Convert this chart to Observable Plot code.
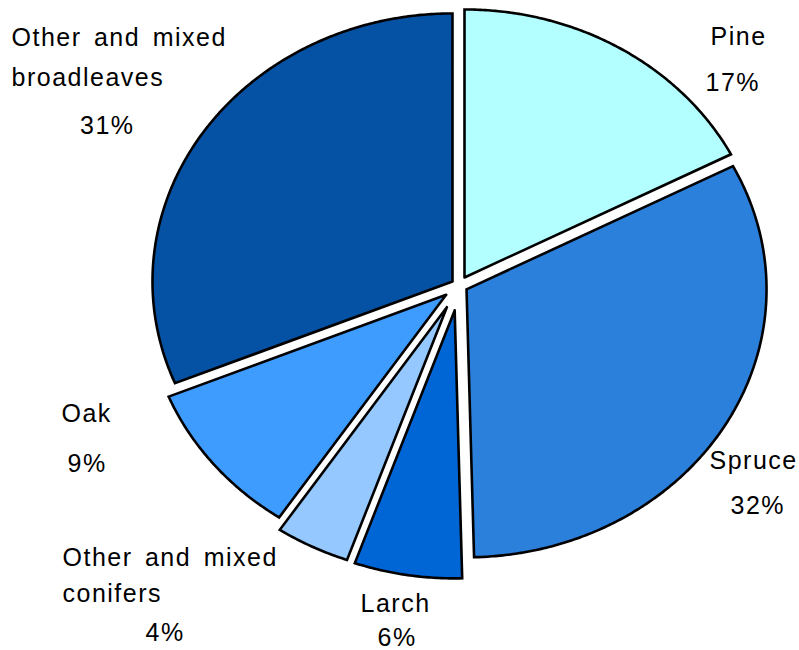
<!DOCTYPE html>
<html>
<head>
<meta charset="utf-8">
<script src="https://cdn.jsdelivr.net/npm/d3@7"></script>
<script src="https://cdn.jsdelivr.net/npm/@observablehq/plot@0.6"></script>
<style>
  html, body { margin: 0; padding: 0; background: #ffffff; }
  #chart svg { display: block; }
</style>
</head>
<body>
<div id="chart"></div>
<script>
// ---- data ----
const categories = ["Pine", "Spruce", "Larch", "Other and mixed conifers", "Oak", "Other and mixed broadleaves"];
const shares = [17.4, 32.2, 5.8, 4.0, 9.4, 31.2];
const percentLabels = ["17%", "32%", "6%", "4%", "9%", "31%"];
const labelLines = [["Pine"], ["Spruce"], ["Larch"], ["Other and mixed", "conifers"], ["Oak"], ["Other and mixed", "broadleaves"]];

// ---- style / layout ----
const colors = ["#b3ffff", "#2b80dc", "#0066d6", "#94c8ff", "#3f9cff", "#0552a5"];
const W = 799, H = 650;
const cx = 458.6, cy = 284.9, rx = 300, ry = 268;
const explode = [9.6, 8.4, 25.4, 25, 16, 7.7];
// [x, baseline] for each label line, then for the percentage line
const labelLayout = [
  [[710, 44.3], [705, 90]],
  [[709, 468.3], [730, 513.3]],
  [[360, 611.7], [377, 645.5]],
  [[62, 565], [62, 601.7], [145, 640]],
  [[61, 421.7], [67, 471.7]],
  [[11, 45], [11, 85], [79.5, 133]]
];

// ---- build slice outlines from the shares ----
const pie = d3.pie().sort(null).value(d => d)(shares);
const slicePoints = [];
pie.forEach((p, i) => {
  const a0 = p.startAngle, a1 = p.endAngle, mid = (a0 + a1) / 2;
  let dx = Math.sin(mid) * rx, dy = -Math.cos(mid) * ry;
  const len = Math.hypot(dx, dy);
  const vx = cx + explode[i] * dx / len, vy = cy + explode[i] * dy / len;
  const name = categories[i];
  slicePoints.push({name, x: vx, y: vy});
  const steps = Math.max(2, Math.ceil((a1 - a0) / (Math.PI / 360)));
  for (let k = 0; k <= steps; k++) {
    const a = a0 + (a1 - a0) * k / steps;
    slicePoints.push({name, x: vx + rx * Math.sin(a), y: vy - ry * Math.cos(a)});
  }
  slicePoints.push({name, x: vx, y: vy});
});

const textRows = [];
categories.forEach((c, i) => {
  const lines = [...labelLines[i], percentLabels[i]];
  lines.forEach((t, j) => {
    textRows.push({text: t, x: labelLayout[i][j][0], y: labelLayout[i][j][1]});
  });
});

const chart = Plot.plot({
  width: W,
  height: H,
  margin: 0,
  style: {background: "#ffffff", fontFamily: "'Liberation Sans', Arial, sans-serif", letterSpacing: "1.5px", wordSpacing: "4px"},
  x: {domain: [0, W], range: [0, W], axis: null},
  y: {domain: [0, H], range: [0, H], axis: null},
  color: {domain: categories, range: colors},
  marks: [
    Plot.line(slicePoints, {
      x: "x", y: "y", z: "name", fill: "name",
      stroke: "#000000", strokeWidth: 2.6,
      strokeLinejoin: "miter", strokeMiterlimit: 2,
      curve: "linear"
    }),
    Plot.text(textRows, {
      x: "x", y: "y", text: "text",
      textAnchor: "start", lineAnchor: "bottom",
      fontSize: 25, fill: "#000000"
    })
  ]
});
document.getElementById("chart").appendChild(chart);
</script>
</body>
</html>
